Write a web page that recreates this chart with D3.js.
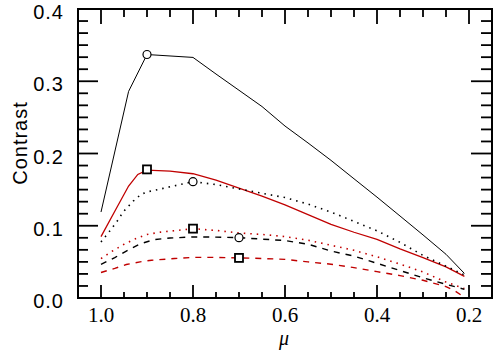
<!DOCTYPE html>
<html>
<head>
<meta charset="utf-8">
<script src="https://cdn.jsdelivr.net/npm/d3@7"></script>
<style>
  body { margin: 0; background: #fff; }
  svg { display: block; }
</style>
</head>
<body>
<svg id="chart" width="493" height="350"></svg>
<script>
// mu values (x) and contrast values (y)
const blackSolidMu = [1.0, 0.94, 0.9, 0.8, 0.75, 0.7, 0.65, 0.6, 0.55, 0.5, 0.45, 0.4, 0.35, 0.3, 0.25, 0.21];
const blackSolidC  = [0.119, 0.286, 0.337, 0.333, 0.31, 0.2875, 0.265, 0.238, 0.2146, 0.1905, 0.165, 0.1396, 0.1135, 0.0873, 0.0605, 0.034];

const redSolidMu = [1.0, 0.97, 0.94, 0.92, 0.9, 0.85, 0.8, 0.75, 0.7, 0.65, 0.6, 0.55, 0.5, 0.45, 0.4, 0.35, 0.3, 0.25, 0.21];
const redSolidC  = [0.085, 0.12, 0.155, 0.171, 0.177, 0.1755, 0.172, 0.163, 0.152, 0.141, 0.129, 0.1155, 0.102, 0.091, 0.081, 0.068, 0.056, 0.043, 0.030];

const blackDotMu = [1.0, 0.98, 0.963, 0.952, 0.93, 0.912, 0.894, 0.865, 0.84, 0.817, 0.8, 0.75, 0.7, 0.65, 0.6, 0.55, 0.5, 0.45, 0.4, 0.35, 0.3, 0.25, 0.21];
const blackDotC  = [0.0775, 0.0935, 0.108, 0.119, 0.134, 0.144, 0.1476, 0.1517, 0.1554, 0.1586, 0.161, 0.157, 0.151, 0.145, 0.139, 0.130, 0.119, 0.106, 0.093, 0.077, 0.059, 0.044, 0.032];

const redDotMu = [1.0, 0.975, 0.95, 0.925, 0.9, 0.87, 0.85, 0.82, 0.8, 0.75, 0.7, 0.65, 0.6, 0.55, 0.5, 0.45, 0.4, 0.35, 0.3, 0.25, 0.21];
const redDotC  = [0.0546, 0.065, 0.0743, 0.082, 0.088, 0.0912, 0.0926, 0.0945, 0.096, 0.0935, 0.090, 0.088, 0.085, 0.080, 0.073, 0.066, 0.057, 0.047, 0.036, 0.022, 0.013];

const blackDashMu = [1.0, 0.97, 0.945, 0.915, 0.885, 0.85, 0.8, 0.75, 0.7, 0.65, 0.6, 0.55, 0.5, 0.45, 0.4, 0.35, 0.3, 0.25, 0.21];
const blackDashC  = [0.0467, 0.056, 0.065, 0.075, 0.0807, 0.083, 0.0845, 0.0843, 0.0835, 0.0815, 0.0795, 0.0745, 0.065, 0.058, 0.048, 0.038, 0.028, 0.019, 0.012];

const redDashMu = [1.0, 0.97, 0.945, 0.915, 0.89, 0.84, 0.8, 0.75, 0.7, 0.65, 0.6, 0.55, 0.5, 0.45, 0.4, 0.35, 0.3, 0.25, 0.23, 0.21];
const redDashC  = [0.0353, 0.041, 0.0463, 0.050, 0.0523, 0.0546, 0.0562, 0.0562, 0.0555, 0.0547, 0.0535, 0.050, 0.0468, 0.042, 0.0365, 0.031, 0.0245, 0.0158, 0.0096, 0.001];

// open markers
const markerMu = [0.9, 0.9, 0.8, 0.8, 0.7, 0.7];
const markerC  = [0.337, 0.178, 0.161, 0.096, 0.0835, 0.0555];
const markerShape = ["circle", "square", "circle", "square", "circle", "square"];

const xTicks = [1.0, 0.8, 0.6, 0.4, 0.2];
const yTicks = [0.0, 0.1, 0.2, 0.3, 0.4];

const svg = d3.select("#chart");
const plotLeft = 78, plotRight = 492, plotTop = 9, plotBottom = 298;

const x = d3.scaleLinear().domain([1.05, 0.15]).range([plotLeft, plotRight]);
const y = d3.scaleLinear().domain([0, 0.4]).range([plotBottom, plotTop]);

const series = [
  { mu: blackSolidMu, c: blackSolidC, color: "#000", width: 1, dash: null },
  { mu: redSolidMu, c: redSolidC, color: "#c00000", width: 1.3, dash: null },
  { mu: blackDotMu, c: blackDotC, color: "#000", width: 1.6, dash: "1.5,5" },
  { mu: redDotMu, c: redDotC, color: "#c00000", width: 1.6, dash: "1.5,5" },
  { mu: blackDashMu, c: blackDashC, color: "#000", width: 1.4, dash: "6,6" },
  { mu: redDashMu, c: redDashC, color: "#c00000", width: 1.4, dash: "6,6" }
];

const line = d3.line()
  .x(d => x(d[0]))
  .y(d => y(d[1]));

svg.selectAll(".series")
  .data(series)
  .join("path")
  .attr("class", "series")
  .attr("d", s => line(s.mu.map((m, i) => [m, s.c[i]])))
  .attr("fill", "none")
  .attr("stroke", s => s.color)
  .attr("stroke-width", s => s.width)
  .attr("stroke-dasharray", s => s.dash);

// markers
const markers = markerMu.map((m, i) => ({ mu: m, c: markerC[i], shape: markerShape[i] }));
svg.selectAll(".mk-circle")
  .data(markers.filter(d => d.shape === "circle"))
  .join("circle")
  .attr("class", "mk-circle")
  .attr("cx", d => x(d.mu))
  .attr("cy", d => y(d.c))
  .attr("r", 4)
  .attr("fill", "#fff")
  .attr("stroke", "#000")
  .attr("stroke-width", 1.2);

svg.selectAll(".mk-square")
  .data(markers.filter(d => d.shape === "square"))
  .join("rect")
  .attr("class", "mk-square")
  .attr("x", d => x(d.mu) - 4)
  .attr("y", d => y(d.c) - 4)
  .attr("width", 8)
  .attr("height", 8)
  .attr("fill", "#fff")
  .attr("stroke", "#000")
  .attr("stroke-width", 1.8);

// frame
svg.append("rect")
  .attr("x", plotLeft).attr("y", plotTop)
  .attr("width", plotRight - plotLeft).attr("height", plotBottom - plotTop)
  .attr("fill", "none")
  .attr("stroke", "#000")
  .attr("stroke-width", 2);

// x ticks (major every 0.2, minor every 0.05), bottom and top, pointing inward
const xMinor = d3.range(0, 19).map(i => 0.15 + i * 0.05).filter(v => v > 0.151 && v < 1.049);
const g = svg.append("g").attr("stroke", "#000").attr("stroke-width", 1.8);
xMinor.forEach(v => {
  const major = xTicks.some(t => Math.abs(t - v) < 1e-6);
  g.append("line").attr("x1", x(v)).attr("x2", x(v)).attr("y1", plotBottom).attr("y2", plotBottom - (major ? 13 : 6));
  g.append("line").attr("x1", x(v)).attr("x2", x(v)).attr("y1", plotTop).attr("y2", plotTop + (major ? 15 : 8));
});

// y ticks (major every 0.1, five minor between)
const yMinor = d3.range(1, 24).map(i => i / 60);
yMinor.forEach(v => {
  const major = yTicks.some(t => Math.abs(t - v) < 1e-6);
  g.append("line").attr("x1", plotLeft).attr("x2", plotLeft + (major ? 20 : 10)).attr("y1", y(v)).attr("y2", y(v));
  g.append("line").attr("x1", plotRight).attr("x2", plotRight - (major ? 21 : 11)).attr("y1", y(v)).attr("y2", y(v));
});

// tick labels
svg.selectAll(".ylab")
  .data(yTicks)
  .join("text")
  .attr("class", "ylab")
  .attr("x", 64)
  .attr("y", d => y(d) + 10)
  .attr("text-anchor", "end")
  .style("font-family", "'Liberation Sans', Arial, sans-serif")
  .style("font-size", "20px")
  .style("letter-spacing", "1px")
  .text(d => d.toFixed(1));

svg.selectAll(".xlab")
  .data(xTicks)
  .join("text")
  .attr("class", "xlab")
  .attr("x", d => x(d))
  .attr("y", 322)
  .attr("text-anchor", "middle")
  .style("font-family", "'Liberation Serif', 'Times New Roman', serif")
  .style("font-size", "21px")
  .text(d => d.toFixed(1));

// axis titles
svg.append("text")
  .attr("transform", "translate(26.5,143) rotate(-90)")
  .attr("text-anchor", "middle")
  .style("font-family", "'Liberation Sans', Arial, sans-serif")
  .style("font-size", "20px")
  .style("letter-spacing", "1px")
  .text("Contrast");

svg.append("text")
  .attr("x", 284)
  .attr("y", 345)
  .attr("text-anchor", "middle")
  .style("font-family", "'Liberation Serif', 'Times New Roman', serif")
  .style("font-style", "italic")
  .style("font-size", "20px")
  .text("μ");
</script>
</body>
</html>
